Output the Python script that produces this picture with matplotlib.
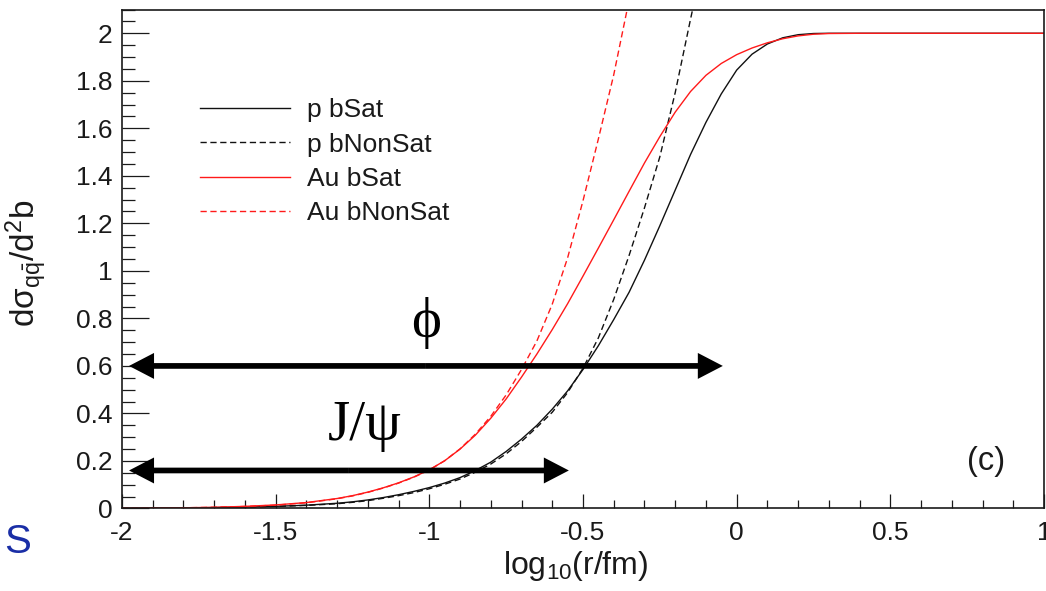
import matplotlib
matplotlib.use("Agg")
import matplotlib.pyplot as plt
from matplotlib.ticker import MultipleLocator, FuncFormatter

# dipole cross section vs dipole size, read at log10(r/fm)
LOG_R = [-2.0, -1.9, -1.8, -1.7, -1.6, -1.5, -1.4, -1.3,
         -1.25, -1.2, -1.15, -1.1, -1.05, -1.0, -0.95, -0.9, -0.85, -0.8,
         -0.75, -0.7, -0.65, -0.6, -0.55, -0.5, -0.45, -0.4, -0.35, -0.3,
         -0.25, -0.2, -0.15, -0.1, -0.05, 0.0, 0.05, 0.1, 0.15, 0.2,
         0.25, 0.3, 0.4, 0.6, 0.8, 1.0]

P_BSAT = [0.001, 0.0015, 0.002, 0.004, 0.006, 0.009, 0.014, 0.022,
          0.028, 0.036, 0.046, 0.058, 0.072, 0.088, 0.107, 0.130, 0.160, 0.195,
          0.240, 0.292, 0.350, 0.418, 0.495, 0.585, 0.685, 0.795, 0.910, 1.045,
          1.190, 1.340, 1.490, 1.625, 1.745, 1.845, 1.912, 1.955, 1.981, 1.994,
          1.999, 2.0, 2.0, 2.0, 2.0, 2.0]

AU_BSAT = [0.001, 0.002, 0.003, 0.005, 0.009, 0.015, 0.025, 0.042,
           0.054, 0.069, 0.087, 0.108, 0.133, 0.163, 0.201, 0.250, 0.309, 0.380,
           0.461, 0.553, 0.650, 0.753, 0.862, 0.978, 1.096, 1.215, 1.335, 1.454,
           1.565, 1.668, 1.755, 1.823, 1.873, 1.910, 1.938, 1.960, 1.977, 1.989,
           1.996, 1.999, 2.0, 2.0, 2.0, 2.0]

# non-saturated versions keep rising past the top of the frame
P_BNONSAT = [0.001, 0.0015, 0.002, 0.0035, 0.0055, 0.0085, 0.013, 0.020,
             0.026, 0.033, 0.043, 0.054, 0.067, 0.083, 0.102, 0.124, 0.153, 0.187,
             0.230, 0.282, 0.342, 0.405, 0.488, 0.590, 0.718, 0.880, 1.065, 1.265,
             1.480, 1.750, 2.060, 2.360]

AU_BNONSAT = [0.001, 0.002, 0.003, 0.005, 0.0085, 0.014, 0.024, 0.041,
              0.053, 0.068, 0.086, 0.107, 0.132, 0.162, 0.201, 0.251, 0.313, 0.388,
              0.478, 0.585, 0.705, 0.860, 1.055, 1.295, 1.555, 1.825, 2.140]

# double arrows: y level, left tip, right tip
ARROW_Y = [0.6, 0.16]
ARROW_X0 = [-1.977, -1.977]
ARROW_X1 = [-0.045, -0.546]
ARROW_TXT = ["\u03d5", "J/\u03c8"]

plt.rcParams["font.family"] = ["Liberation Sans", "DejaVu Sans"]
plt.rcParams["mathtext.fontset"] = "custom"
plt.rcParams["mathtext.rm"] = "Liberation Sans"
plt.rcParams["mathtext.it"] = "Liberation Sans"
plt.rcParams["mathtext.bf"] = "Liberation Sans:bold"

SERIF = ["Liberation Serif", "DejaVu Serif"]
INK = "#1a1a1a"

fig = plt.figure(figsize=(10.46, 5.91), dpi=100)
ax = fig.add_axes([0.1166, 0.1396, 0.8815, 0.8443])

curves = [
    (LOG_R, P_BSAT, "#111111", "-", "p bSat"),
    (LOG_R[:len(P_BNONSAT)], P_BNONSAT, "#111111", "--", "p bNonSat"),
    (LOG_R, AU_BSAT, "#ff1a1a", "-", "Au bSat"),
    (LOG_R[:len(AU_BNONSAT)], AU_BNONSAT, "#ff1a1a", "--", "Au bNonSat"),
]
for xs, ys, col, ls, lab in curves:
    line, = ax.plot(xs, ys, color=col, lw=1.0, ls=ls, label=lab)
    if ls == "--":
        line.set_dashes((4.5, 2.6))

# phi and J/psi ranges
for y, x0, x1 in zip(ARROW_Y, ARROW_X0, ARROW_X1):
    xm = 0.5 * (x0 + x1)
    for tip in (x0, x1):
        ax.annotate("", xy=(tip, y), xytext=(xm, y),
                    arrowprops=dict(arrowstyle="simple,head_length=1.8,head_width=1.87,tail_width=0.41",
                                    mutation_scale=10, fc="black", ec="none", lw=0,
                                    shrinkA=0, shrinkB=0))

ax.text(-1.011, 0.78, ARROW_TXT[0], fontsize=41, family=SERIF, ha="center", va="center")
ax.text(-1.21, 0.288, ARROW_TXT[1], fontsize=41, family=SERIF, ha="center", va="baseline")
ax.text(0.811, 0.196, "(c)", fontsize=23.5, ha="center", va="center", color=INK)

ax.set_xlim(-2, 1)
ax.set_ylim(0, 2.1)
ax.xaxis.set_major_locator(MultipleLocator(0.5))
ax.xaxis.set_minor_locator(MultipleLocator(0.1))
ax.yaxis.set_major_locator(MultipleLocator(0.2))
ax.yaxis.set_minor_locator(MultipleLocator(0.05))
fmt = FuncFormatter(lambda v, _: f"{round(v, 2) + 0.0:g}")
ax.xaxis.set_major_formatter(fmt)
ax.yaxis.set_major_formatter(fmt)

ax.tick_params(which="both", direction="in", top=False, right=False,
               colors=INK, labelsize=19, width=0.9)
ax.tick_params(axis="y", which="major", length=19.4, pad=7)
ax.tick_params(axis="y", which="minor", length=9.4)
ax.tick_params(axis="x", which="major", length=10, pad=9)
ax.tick_params(axis="x", which="minor", length=5.8)
for s in ax.spines.values():
    s.set_linewidth(1.2)
    s.set_color(INK)

ax.set_xlabel(r"log$_{10}$(r/fm)", fontsize=23, color=INK)
ax.xaxis.set_label_coords(0.492, -0.115)
ax.xaxis.label.set_va("center")
ax.set_ylabel(r"d$\sigma_{q\bar{q}}$/d$^{2}$b", fontsize=24, color=INK)
ax.yaxis.set_label_coords(-0.103, 0.492)
ax.yaxis.label.set_va("center")

ax.legend(loc="upper left", bbox_to_anchor=(0.0846, 0.822), frameon=False,
          fontsize=19, handlelength=3.41, handletextpad=0.64, labelspacing=0.39,
          borderpad=0, borderaxespad=0, labelcolor=INK)

fig.text(0.004, 0.0643, "S", fontsize=29, color="#1a2ea6", ha="left", va="baseline")

fig.savefig("out.png", dpi=100)
